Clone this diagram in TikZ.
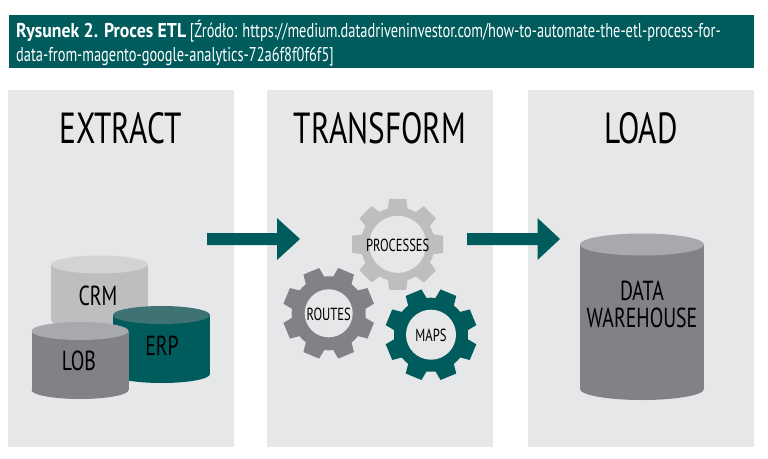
\documentclass[tikz,border=0pt]{standalone}
\usepackage{fontspec}
\setmainfont[FakeStretch=.72]{PT Sans}
\newfontfamily\headbold[FakeStretch=.885]{PT Sans Bold}
\definecolor{teal}{HTML}{005B5C}
\definecolor{tealtop}{HTML}{3F7272}
\definecolor{panel}{HTML}{E6E7E8}
\definecolor{lgrey}{HTML}{BCBEC0}
\definecolor{lgreytop}{HTML}{D1D3D4}
\definecolor{dgrey}{HTML}{808285}
\definecolor{dgreytop}{HTML}{A7A9AC}
\tikzset{
  titlelab/.style={inner sep=0pt,font=\fontsize{43.5}{43.5}\selectfont},
  cylab/.style={inner sep=0pt,align=center,font=\fontsize{27.5}{27.5}\selectfont},
  gearlab/.style={inner sep=0pt,font=\fontsize{17.5}{17.5}\selectfont},
  headlab/.style={inner sep=0pt,anchor=base west,text=white,font=\fontsize{20}{20}\selectfont}
}
\begin{document}
\begin{tikzpicture}[x=1pt,y=-1pt]
\useasboundingbox (0,0) rectangle (768,458);
\fill[teal] (9,15) rectangle (753.5,68);
\node[headlab] (headone) at (16,37.7) {{\headbold Rysunek 2. Proces ETL} [Źródło: https://medium.datadriveninvestor.com/how-to-automate-the-etl-process-for-};
\node[headlab] (headtwo) at (16,61.7) {data-from-magento-google-analytics-72a6f8f0f6f5]};
% panels
\foreach \k/\w/\lab in {7.5/extract/EXTRACT,267/transform/TRANSFORM,528/load/LOAD}{
\begin{scope}[xshift=\k pt]
\fill[panel] (0,90) rectangle (226,447);
\node[titlelab] (\w) at (113,128.5) {\lab};
\end{scope}}
% arrows
\fill[teal] (207,233)--(277,233)--(277,218)--(300,239)--(277,260)--(277,245)--(207,245)--cycle;
\fill[teal] (467,233)--(537.5,233)--(537.5,218)--(560,239)--(537.5,260)--(537.5,245)--(467,245)--cycle;
% cylinders
\foreach \cx/\cy/\cb/\rx/\ry/\col/\tp in {99.5/264.5/320/48.5/9/lgrey/lgreytop,161.5/315/374/48.5/9/teal/tealtop,80/331/390/48.5/9/dgrey/dgreytop,642/244.5/389/62/11/dgrey/dgreytop}{
\fill[\col] (\cx-\rx,\cy) rectangle (\cx+\rx,\cb);
\fill[\col] (\cx,\cb) ellipse [x radius=\rx,y radius=\ry];
\fill[\tp] (\cx,\cy) ellipse [x radius=\rx,y radius=\ry];
}
\node[cylab] (crm) at (98,296) {CRM};
\node[cylab] (erp) at (162,346) {ERP};
\node[cylab] (lob) at (79,361) {LOB};
\node[cylab] (dwh) at (642,304.5) {DATA\\WAREHOUSE};
% gears
\foreach \gx/\gy/\rot/\hole/\col in {397.7/244.3/0/28.5/lgrey,328.7/313.3/22.5/24/dgrey,431/334.7/22.5/25/teal}{
\begin{scope}[shift={(\gx,\gy)},rotate=\rot]
\fill[\col] (0,0) circle (37);
\foreach \a in {0,45,...,315}
\fill[\col,rotate=\a] (-10,-35)--(-8.5,-45.5)--(8.5,-45.5)--(10,-35)--cycle;
\fill[panel] (0,0) circle (\hole);
\end{scope}}
\node[gearlab] (processes) at (397.7,245) {PROCESSES};
\node[gearlab] (routes) at (328.7,314) {ROUTES};
\node[gearlab] (maps) at (431,335) {MAPS};
\end{tikzpicture}
\end{document}
